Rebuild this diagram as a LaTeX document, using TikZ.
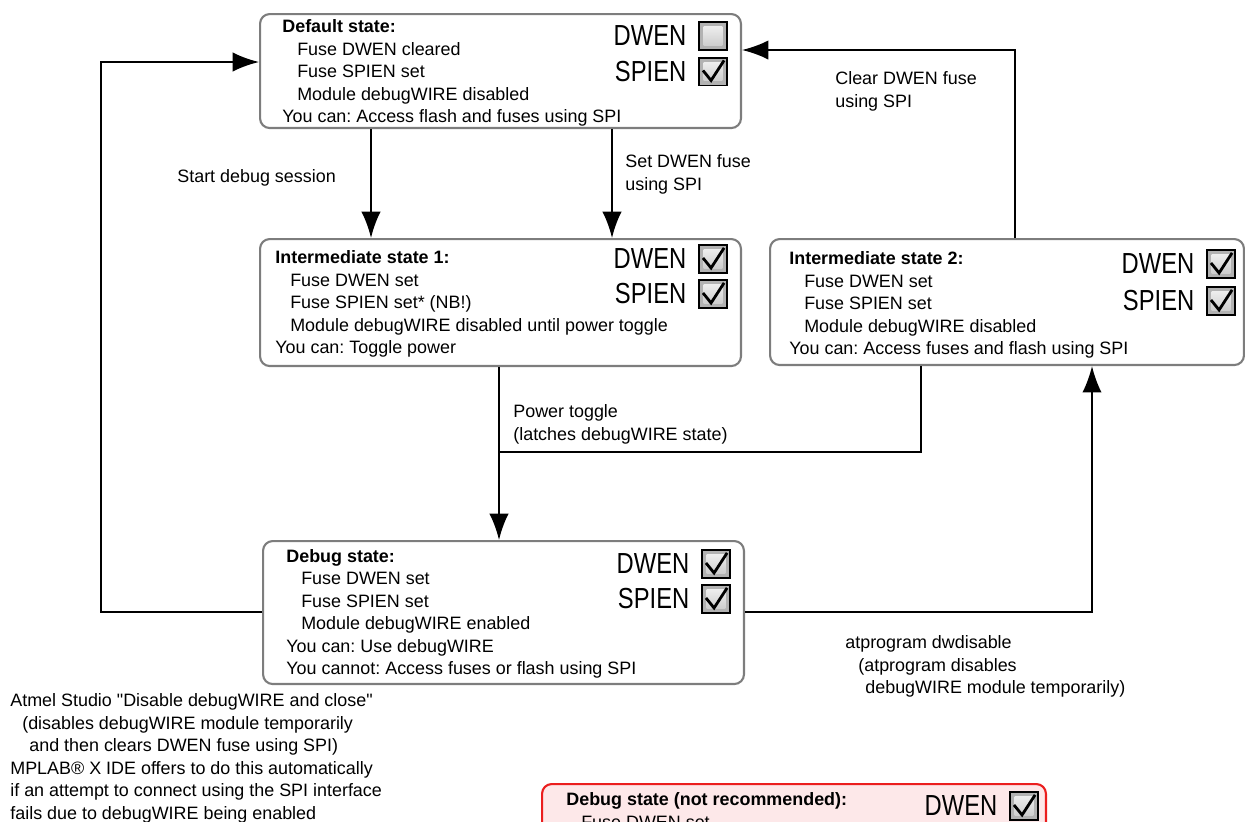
\documentclass[tikz,border=0pt]{standalone}
\usepackage{graphicx}
\usepackage{fontspec}
\setmainfont{Liberation Sans}[Ligatures=TeXOff]
\usetikzlibrary{arrows.meta, positioning, calc}
\definecolor{boxgray}{RGB}{125,125,125}
\definecolor{warnfill}{RGB}{253,232,233}
\definecolor{warnred}{RGB}{235,30,30}
\frenchspacing
\newcommand{\bodyfont}{\fontsize{10.2pt}{12.8pt}\selectfont}
\newcommand{\fusefont}{\fontsize{16.5pt}{18pt}\selectfont}
\newcommand{\fuse}[1]{\scalebox{0.82}[1]{#1}}
\newcommand{\chkshade}{\shade[top color=gray!8, bottom color=gray!45]
  ([shift={(2.6pt,2.6pt)}]path picture bounding box.south west) rectangle
  ([shift={(-2.6pt,-2.6pt)}]path picture bounding box.north east);}

\tikzset{
  statebox/.style={draw=boxgray, line width=1.2pt, rounded corners=5.5pt,
    inner sep=0pt, anchor=north west},
  redbox/.style={statebox, draw=warnred, fill=warnfill},
  boxtext/.style={align=left, inner sep=0pt, anchor=north west, font=\bodyfont},
  fuselabel/.style={inner sep=0pt, font=\fusefont},
  chkbox/.style={draw=black, line width=1.1pt, fill=gray!60, inner sep=0pt,
    minimum size=15.9pt, path picture={\chkshade}},
  ticked/.style={chkbox, path picture={\chkshade
    \draw[line width=1.6pt, line join=miter]
      ([shift={(-5.7pt,0.6pt)}]path picture bounding box.center)
      -- ([shift={(-1.1pt,-5.1pt)}]path picture bounding box.center)
      -- ([shift={(6.3pt,6.3pt)}]path picture bounding box.center);}},
  flow/.style={draw, line width=1.1pt, -{Latex[length=15pt, width=11pt]}},
  wire/.style={draw, line width=1.1pt}
}

\begin{document}
\begin{tikzpicture}[x=0.02cm, y=-0.02cm]
  \useasboundingbox (0,0) rectangle (1245,822);
  \clip (0,0) rectangle (1245,822);

  % STATES

  \node[statebox, minimum width=9.62cm, minimum height=2.28cm] (default) at (259,13) {};
  \node[boxtext] (defaulttxt) at (282,19.5) {\textbf{Default state:}\\
    \hspace*{8.5pt}Fuse DWEN cleared\\
    \hspace*{8.5pt}Fuse SPIEN set\\
    \hspace*{8.5pt}Module debugWIRE disabled\\
    You can: Access flash and fuses using SPI};
  \node[chkbox] (dwdefault) at (713,36) {};
  \node[ticked] (spdefault) at (713,71.5) {};
  \node[fuselabel, left=6.5pt of dwdefault] (dwdefaultlbl) {\fuse{DWEN}};
  \node[fuselabel, left=6.5pt of spdefault] (spdefaultlbl) {\fuse{SPIEN}};

  \node[statebox, minimum width=9.62cm, minimum height=2.54cm] (inter1) at (259,238) {};
  \node[boxtext] (inter1txt) at (275,250.5) {\textbf{Intermediate state 1:}\\
    \hspace*{8.5pt}Fuse DWEN set\\
    \hspace*{8.5pt}Fuse SPIEN set* (NB!)\\
    \hspace*{8.5pt}Module debugWIRE disabled until power toggle\\
    You can: Toggle power};
  \node[ticked] (dwinter1) at (713,259) {};
  \node[ticked] (spinter1) at (713,294) {};
  \node[fuselabel, left=6.5pt of dwinter1] (dwinter1lbl) {\fuse{DWEN}};
  \node[fuselabel, left=6.5pt of spinter1] (spinter1lbl) {\fuse{SPIEN}};

  \node[statebox, minimum width=9.48cm, minimum height=2.52cm] (inter2) at (769,238) {};
  \node[boxtext] (inter2txt) at (789,251.5) {\textbf{Intermediate state 2:}\\
    \hspace*{8.5pt}Fuse DWEN set\\
    \hspace*{8.5pt}Fuse SPIEN set\\
    \hspace*{8.5pt}Module debugWIRE disabled\\
    You can: Access fuses and flash using SPI};
  \node[ticked] (dwinter2) at (1221,264) {};
  \node[ticked] (spinter2) at (1221,301) {};
  \node[fuselabel, left=6.5pt of dwinter2] (dwinter2lbl) {\fuse{DWEN}};
  \node[fuselabel, left=6.5pt of spinter2] (spinter2lbl) {\fuse{SPIEN}};

  \node[statebox, minimum width=9.62cm, minimum height=2.86cm] (debug) at (262,540) {};
  \node[boxtext] (debugtxt) at (286,549) {\textbf{Debug state:}\\
    \hspace*{8.5pt}Fuse DWEN set\\
    \hspace*{8.5pt}Fuse SPIEN set\\
    \hspace*{8.5pt}Module debugWIRE enabled\\
    You can: Use debugWIRE\\
    You cannot: Access fuses or flash using SPI};
  \node[ticked] (dwdebug) at (716,564) {};
  \node[ticked] (spdebug) at (716,599) {};
  \node[fuselabel, left=6.5pt of dwdebug] (dwdebuglbl) {\fuse{DWEN}};
  \node[fuselabel, left=6.5pt of spdebug] (spdebuglbl) {\fuse{SPIEN}};

  \node[redbox, minimum width=10.08cm, minimum height=3.5cm] (nrdebug) at (541,783) {};
  \node[boxtext] (nrdebugtxt) at (566,792.5) {\textbf{Debug state (not recommended):}\\
    \hspace*{8.5pt}Fuse DWEN set};
  \node[ticked] (dwnrdebug) at (1024,806) {};
  \node[fuselabel, left=6.5pt of dwnrdebug] (dwnrdebuglbl) {\fuse{DWEN}};

  % TRANSITIONS

  \coordinate (loopcorner) at (101,62);
  \coordinate (latch) at (499,452);

  \draw[flow] (371,0 |- default.south) -- (371,0 |- inter1.north);
  \node[boxtext] (startlbl) at (177,169.5) {Start debug session};

  \draw[flow] (612,0 |- default.south) -- (612,0 |- inter1.north);
  \node[boxtext] (setlbl) at (625,154.5) {Set DWEN fuse\\using SPI};

  \draw[flow] (1015,0 |- inter2.north) |- (default.east |- 0,50);
  \node[boxtext] (clearlbl) at (835,71.5) {Clear DWEN fuse\\using SPI};

  \draw[flow] (499,0 |- inter1.south) -- (499,0 |- debug.north);
  \draw[wire] (921,0 |- inter2.south) |- (latch);
  \node[boxtext] (powerlbl) at (513,404.5) {Power toggle\\(latches debugWIRE state)};

  \draw[flow] (debug.west |- 0,612) -| (loopcorner) -- (default.west |- loopcorner);
  \node[boxtext] (closelbl) at (10,693.5) {Atmel Studio "Disable debugWIRE and close"\\
    \hspace*{6.8pt}(disables debugWIRE module temporarily\\
    \hspace*{10.8pt}and then clears DWEN fuse using SPI)\\
    MPLAB® X IDE offers to do this automatically\\
    if an attempt to connect using the SPI interface\\
    fails due to debugWIRE being enabled};

  \draw[flow] (debug.east |- 0,612) -| (1092,0 |- inter2.south);
  \node[boxtext] (dwdisablelbl) at (845,635.5) {atprogram dwdisable\\
    \hspace*{7.4pt}(atprogram disables\\
    \hspace*{11.4pt}debugWIRE module temporarily)};

\end{tikzpicture}
\end{document}
